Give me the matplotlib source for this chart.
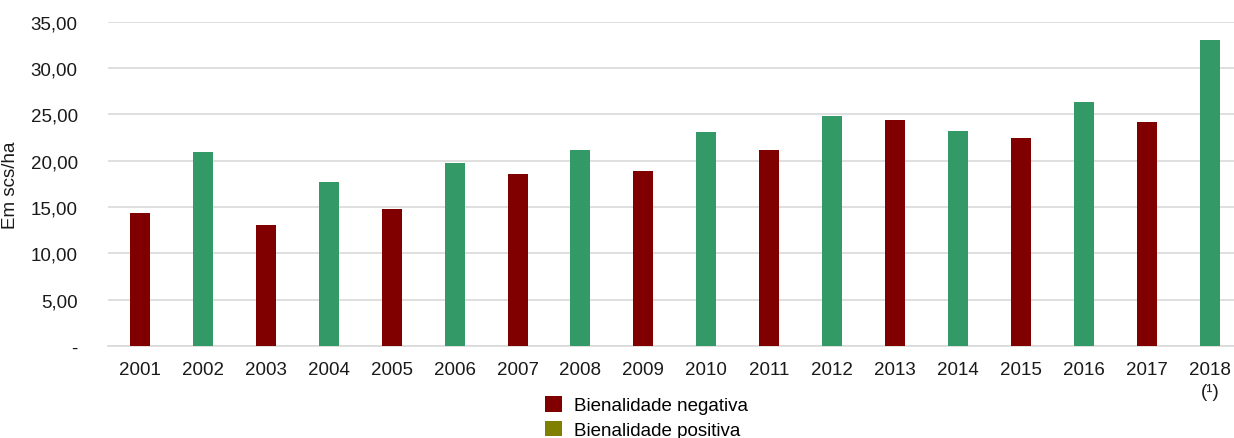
import matplotlib
matplotlib.use("Agg")
import matplotlib.pyplot as plt
from matplotlib.patches import Patch

plt.rcParams['font.family'] = ['Liberation Sans', 'DejaVu Sans']

years = ["2001", "2002", "2003", "2004", "2005", "2006", "2007", "2008", "2009",
         "2010", "2011", "2012", "2013", "2014", "2015", "2016", "2017", "2018\n(¹)"]
yields = [14.31, 20.93, 13.05, 17.69, 14.81, 19.74, 18.59, 21.14, 18.84,
          23.08, 21.11, 24.81, 24.34, 23.19, 22.44, 26.32, 24.13, 33.01]
bienalidade = ["neg", "pos", "neg", "pos", "neg", "pos", "neg", "pos", "neg",
               "pos", "neg", "pos", "neg", "pos", "neg", "pos", "neg", "pos"]
y_ticks = [0, 5, 10, 15, 20, 25, 30, 35]
legend_labels = ["Bienalidade negativa", "Bienalidade positiva"]

RED = "#800000"
GREEN = "#339966"
OLIVE = "#808000"
GRID = "#d9d9d9"
FS = 13.5

fig = plt.figure(figsize=(12.34, 4.39), dpi=100)
ax = fig.add_axes([108.3 / 1234, 1 - 347 / 439, (1241.5 - 108.3) / 1234, (347 - 22.7) / 439])

x = range(len(years))
colors = [RED if b == "neg" else GREEN for b in bienalidade]
ax.bar(x, yields, width=0.318, color=colors, zorder=3)

ax.set_xlim(-0.5, len(years) - 0.5)
ax.set_ylim(0, 35)
ax.set_yticks(y_ticks)
ax.set_yticklabels(["-" if v == 0 else f"{v:.2f}".replace(".", ",") for v in y_ticks])
ax.set_xticks(list(x))
ax.set_xticklabels(years, linespacing=1.35)

ax.grid(axis="y", color=GRID, linewidth=1.2, zorder=0)
for side in ("top", "right", "left"):
    ax.spines[side].set_visible(False)
ax.spines["bottom"].set_color(GRID)
ax.spines["bottom"].set_linewidth(1.2)
ax.tick_params(axis="both", length=0, labelsize=FS, colors="#1a1a1a")
ax.tick_params(axis="y", pad=22)
ax.tick_params(axis="x", pad=11)

ax.set_ylabel("Em scs/ha", fontsize=FS, color="#1a1a1a")
ax.yaxis.set_label_coords((19 - 108.3) / 1133.2, 0.5)

handles = [Patch(facecolor=RED), Patch(facecolor=OLIVE)]
fig.legend(handles, legend_labels, loc="upper left",
           bbox_to_anchor=(545 / 1234, 1 - 397 / 439),
           frameon=False, fontsize=FS, handlelength=0.9, handleheight=0.9,
           handletextpad=0.65, labelspacing=0.35, borderpad=0, borderaxespad=0)

fig.savefig("out.png", dpi=100)
